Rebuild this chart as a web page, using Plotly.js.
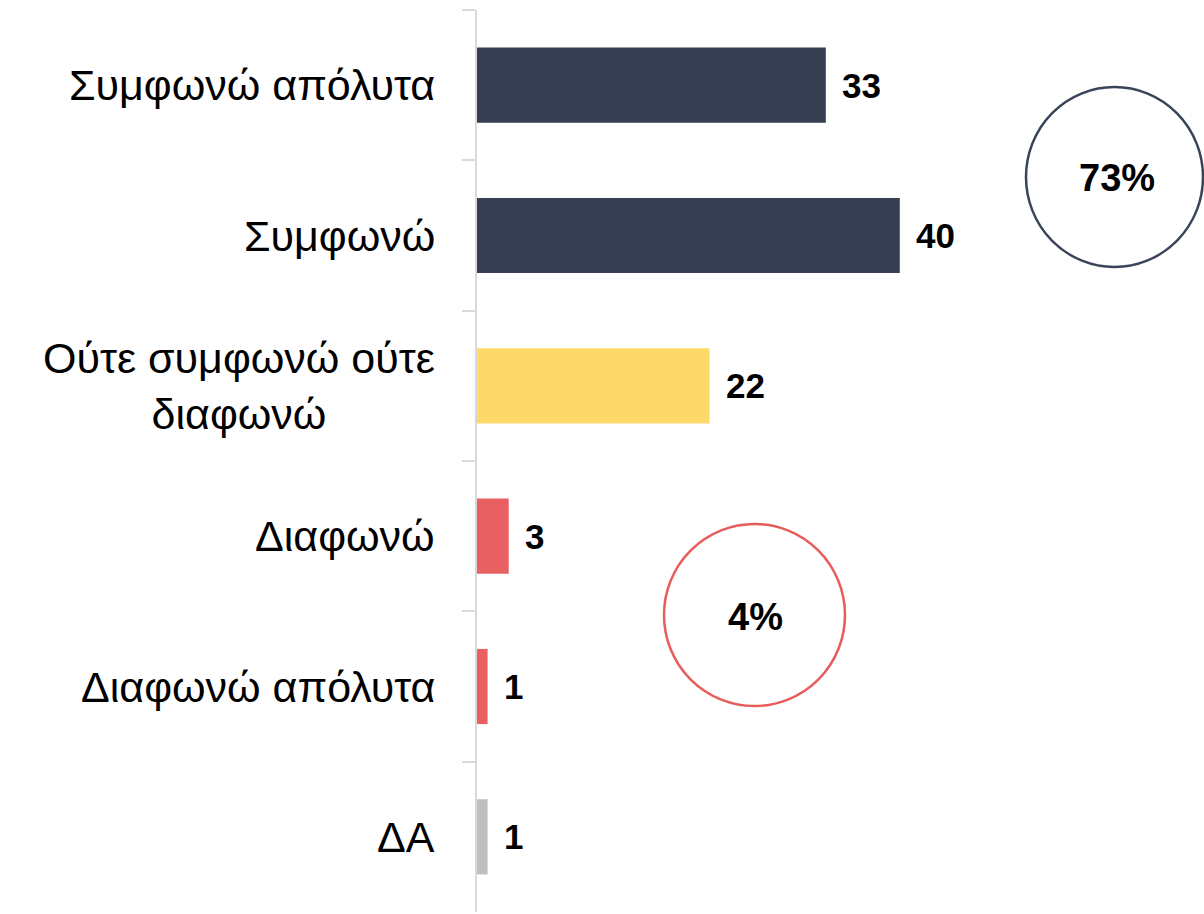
<!DOCTYPE html>
<html>
<head>
<meta charset="utf-8">
<script src="https://cdn.plot.ly/plotly-3.0.1.min.js"></script>
<style>html,body{margin:0;padding:0;background:#fff;}#chart{width:1204px;height:914px;}</style>
</head>
<body>
<div id="chart"></div>
<script>
// Data
var categories = ["Συμφωνώ απόλυτα", "Συμφωνώ", "Ούτε συμφωνώ ούτε<br>διαφωνώ", "Διαφωνώ", "Διαφωνώ απόλυτα", "ΔΑ"];
var values = [33, 40, 22, 3, 1, 1];
var barColors = ["#353f51", "#353f51", "#fdd96a", "#e96062", "#e96062", "#bfbfbf"];
var agreeTotal = "73%";
var disagreeTotal = "4%";

// Plot area in pixels
var W = 1204, H = 914;
var L = 477, R = 0, T = 10, B = 2;
var pw = W - L - R, ph = H - T - B;
function px(x) { return (x - L) / pw; }
function py(y) { return (H - B - y) / ph; }

var trace = {
  type: "bar",
  orientation: "h",
  x: values,
  y: categories,
  marker: { color: barColors },
  hoverinfo: "none"
};

var annotations = [];
categories.forEach(function (c, i) {
  annotations.push({
    xref: "paper", yref: "y", x: px(437), y: c,
    xanchor: "right", yanchor: "middle", align: "center",
    text: c, showarrow: false,
    font: { family: "Liberation Sans, Arial, sans-serif", size: 43, color: "#000" }
  });
  annotations.push({
    xref: "x", yref: "y", x: values[i], y: c,
    xanchor: "left", yanchor: "middle", xshift: 14,
    text: String(values[i]), showarrow: false,
    font: { family: "Liberation Sans, Arial", size: 35, color: "#000", weight: 700 }
  });
});
annotations.push({
  xref: "paper", yref: "paper", x: px(1117), y: py(178),
  xanchor: "center", yanchor: "middle", text: agreeTotal, showarrow: false,
  font: { family: "Liberation Sans, Arial", size: 38, color: "#000", weight: 700 }
});
annotations.push({
  xref: "paper", yref: "paper", x: px(755), y: py(617),
  xanchor: "center", yanchor: "middle", text: disagreeTotal, showarrow: false,
  font: { family: "Liberation Sans, Arial", size: 38, color: "#000", weight: 700 }
});

var layout = {
  width: W, height: H,
  margin: { l: L, r: R, t: T, b: B, pad: 0 },
  paper_bgcolor: "#fff", plot_bgcolor: "#fff",
  showlegend: false,
  bargap: 0.5,
  xaxis: { range: [0, pw / 10.57], visible: false, fixedrange: true },
  yaxis: {
    type: "category", categoryorder: "array", categoryarray: categories,
    autorange: "reversed",
    showline: true, linecolor: "#d9d9d9", linewidth: 2,
    ticks: "outside", tickson: "boundaries", ticklen: 13, tickcolor: "#d9d9d9", tickwidth: 2,
    showticklabels: false, showgrid: false, zeroline: false, fixedrange: true
  },
  shapes: [
    { type: "circle", xref: "paper", yref: "paper",
      x0: px(1026), x1: px(1203), y0: py(267), y1: py(87),
      line: { color: "#3a4458", width: 2.5 }, fillcolor: "rgba(0,0,0,0)" },
    { type: "circle", xref: "paper", yref: "paper",
      x0: px(664), x1: px(845), y0: py(706), y1: py(524),
      line: { color: "#e85c5c", width: 2.5 }, fillcolor: "rgba(0,0,0,0)" }
  ],
  annotations: annotations
};

Plotly.newPlot("chart", [trace], layout, { displayModeBar: false, staticPlot: true });
</script>
</body>
</html>
